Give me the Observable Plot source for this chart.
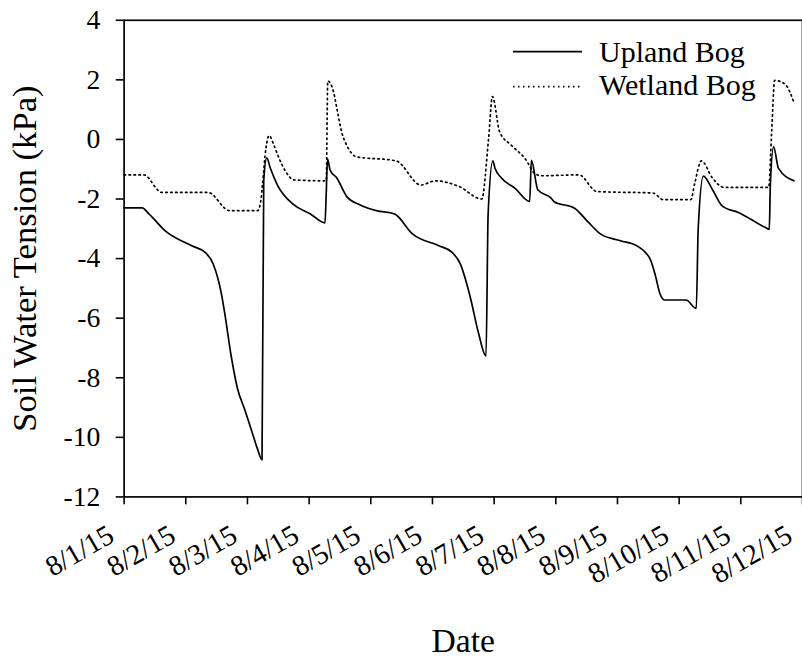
<!DOCTYPE html>
<html><head><meta charset="utf-8">
<script src="https://cdn.jsdelivr.net/npm/d3@7"></script>
<script src="https://cdn.jsdelivr.net/npm/@observablehq/plot@0.6"></script>
<style>
html,body{margin:0;padding:0;overflow:hidden;background:#fff;}
#wrap{position:relative;width:802px;height:658px;overflow:hidden;background:#fff;}
#legend{position:absolute;left:510px;top:30px;}
#chart svg text{font-family:'Liberation Serif','Times New Roman',serif;}
</style></head>
<body><div id="wrap"><div id="chart"></div><svg id="legend" width="292" height="80"></svg></div>
<script>
// ---- data ----
const seriesNames = ["Upland Bog", "Wetland Bog"];
const uplandTime = [
"08-01 00:00","08-01 07:00","08-01 09:40","08-01 16:00","08-02 02:20","08-02 07:30","08-02 10:40","08-02 13:50",
"08-02 15:10","08-02 17:40","08-02 20:10","08-02 22:50","08-03 01:20","08-03 03:50","08-03 05:40","08-03 06:20",
"08-03 07:30","08-03 08:55","08-03 11:40","08-03 18:00","08-04 00:30","08-04 06:10","08-04 06:40","08-04 07:10",
"08-04 08:10","08-04 10:50","08-04 14:40","08-04 19:40","08-05 02:10","08-05 09:10","08-05 16:20","08-06 02:30",
"08-06 07:40","08-06 10:50","08-06 14:40","08-06 17:55","08-06 20:50","08-06 21:40","08-06 23:30","08-07 00:20",
"08-07 02:55","08-07 08:10","08-07 13:50","08-07 14:30","08-07 17:00","08-07 22:10","08-07 23:30","08-08 07:10",
"08-08 12:15","08-08 17:30","08-09 01:10","08-09 07:30","08-09 12:40","08-09 14:35","08-09 16:30","08-09 18:25",
"08-10 02:40","08-10 06:40","08-10 07:25","08-10 09:25","08-10 13:00","08-10 16:50","08-10 23:15","08-11 09:35",
"08-11 11:05","08-11 11:30","08-11 12:45","08-11 14:40","08-11 20:40"];
const uplandValue = [
-2.30,-2.30,-2.50,-3.07,-3.57,-3.79,-4.18,-5.17,
-5.84,-7.27,-8.38,-9.04,-9.70,-10.37,-10.75,-1.40,
-0.62,-0.97,-1.53,-2.19,-2.50,-2.80,-1.80,-0.65,
-1.03,-1.30,-1.92,-2.19,-2.39,-2.50,-3.18,-3.57,
-3.79,-4.18,-5.28,-6.50,-7.27,-2.50,-0.72,-0.97,
-1.30,-1.64,-2.08,-0.70,-1.69,-1.97,-2.10,-2.30,
-2.74,-3.18,-3.40,-3.57,-4.01,-4.51,-5.17,-5.39,
-5.39,-5.67,-3.00,-1.23,-1.69,-2.24,-2.46,-2.96,
-3.02,-1.50,-0.25,-0.97,-1.39];
const wetlandTime = [
"08-01 00:00","08-01 07:40","08-01 14:40","08-02 08:40","08-02 17:00","08-03 04:00","08-03 05:20","08-03 05:50",
"08-03 07:10","08-03 08:25","08-03 10:20","08-03 12:20","08-03 14:55","08-03 18:05","08-04 06:40","08-04 07:15",
"08-04 09:35","08-04 10:50","08-04 12:40","08-04 14:40","08-04 18:25","08-05 09:50","08-05 19:30","08-06 01:10",
"08-06 10:20","08-06 19:10","08-06 21:50","08-06 23:20","08-07 02:10","08-07 06:45","08-07 12:00","08-07 15:50",
"08-07 18:20","08-08 09:00","08-08 16:00","08-09 13:55","08-09 17:45","08-10 04:35","08-10 06:00","08-10 08:40",
"08-10 13:00","08-10 17:30","08-11 10:50","08-11 12:00","08-11 13:10","08-11 17:15","08-11 20:40"];
const wetlandValue = [
-1.19,-1.19,-1.78,-1.78,-2.39,-2.39,-1.97,-1.53,
-0.31,0.13,-0.20,-0.64,-1.08,-1.36,-1.39,1.96,
1.57,1.02,0.25,-0.20,-0.58,-0.72,-1.53,-1.39,
-1.58,-2.00,0.02,1.44,0.25,-0.20,-0.64,-1.14,
-1.22,-1.19,-1.75,-1.80,-2.02,-2.02,-1.50,-0.72,
-1.30,-1.61,-1.61,0.25,1.98,1.85,1.24];
const yTicks = [-12,-10,-8,-6,-4,-2,0,2,4];
const xTickDays = [1,2,3,4,5,6,7,8,9,10,11,12];
const xTickLabels = ["8/1/15","8/2/15","8/3/15","8/4/15","8/5/15","8/6/15","8/7/15","8/8/15","8/9/15","8/10/15","8/11/15","8/12/15"];
const xTitle = "Date";
const yTitle = "Soil Water Tension (kPa)";

// ---- build ----
const parseT = s => new Date(2015, +s.slice(0,2)-1, +s.slice(3,5), +s.slice(6,8), +s.slice(9,11));
const upland = uplandTime.map((t,i) => ({t: parseT(t), v: uplandValue[i]}));
const wetland = wetlandTime.map((t,i) => ({t: parseT(t), v: wetlandValue[i]}));
const xTicks = xTickDays.map(d => new Date(2015, 7, d));
const tickRows = xTicks.map((d,i) => ({d, label: xTickLabels[i]}));
const font = "'Liberation Serif', 'Times New Roman', serif";

const chart = Plot.plot({
  width: 811, height: 658,
  marginLeft: 125, marginRight: 0, marginTop: 20, marginBottom: 156,
  style: {fontFamily: font, fontSize: "28px", color: "#000", background: "#fff", overflow: "visible"},
  x: {type: "time", domain: [xTicks[0], xTicks[xTicks.length-1]]},
  y: {domain: [-12, 4]},
  marks: [
    Plot.axisY({ticks: yTicks, tickSize: 8, tickPadding: 16, tickFormat: d => String(d), label: null, fontSize: 28, fontFamily: font, strokeWidth: 1.6}),
    Plot.axisX({ticks: xTicks, tickSize: 8, tickFormat: () => "", label: null, strokeWidth: 1.6}),
    Plot.text(tickRows, {x: "d", text: "label", frameAnchor: "bottom", lineAnchor: "middle", rotate: -30, textAnchor: "end", dx: -13, dy: 36, fontSize: 29, fontFamily: font, fill: "#000"}),
    Plot.text([yTitle], {frameAnchor: "left", textAnchor: "middle", lineAnchor: "middle", rotate: -90, dx: -100, fontSize: 35, fontFamily: font, fill: "#000"}),
    Plot.text([xTitle], {frameAnchor: "bottom", textAnchor: "middle", lineAnchor: "middle", dy: 146, fontSize: 34, fontFamily: font, fill: "#000"}),
    Plot.frame({stroke: "#000", strokeWidth: 1.7}),
    Plot.line(upland, {x: "t", y: "v", stroke: "#000", strokeWidth: 1.7, curve: "monotone-x"}),
    Plot.line(wetland, {x: "t", y: "v", stroke: "#000", strokeWidth: 1.7, strokeDasharray: "1.5,3.5", curve: "monotone-x"})
  ]
});
document.getElementById("chart").appendChild(chart);

// ---- legend ----
const lg = d3.select("#legend");
const items = [{name: seriesNames[0], dash: null, y: 21.7, by: 32}, {name: seriesNames[1], dash: "1.5,3.5", y: 56.7, by: 65}];
items.forEach(it => {
  lg.append("line").attr("x1", 3).attr("x2", 72).attr("y1", it.y).attr("y2", it.y)
    .attr("stroke", "#000").attr("stroke-width", 1.7).attr("stroke-dasharray", it.dash);
  lg.append("text").attr("x", 89).attr("y", it.by).attr("font-family", font).attr("font-size", 30)
    .attr("fill", "#000").text(it.name);
});
</script></body></html>
